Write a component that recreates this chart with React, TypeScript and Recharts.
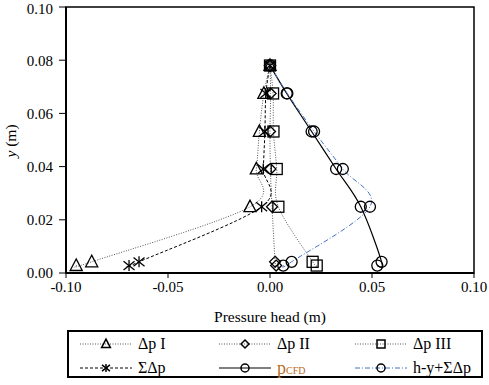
import React from "react";
import {
  LineChart,
  Line,
  XAxis,
  YAxis,
  ReferenceArea,
  Label,
} from "recharts";

// y levels (m), bottom to top, shared by every series
const yLevels = [0.0028, 0.0042, 0.0249, 0.0391, 0.0532, 0.0675, 0.078];

// pressure heads (m) at each y level
const dpI = [-0.095, -0.0874, -0.0098, -0.0067, -0.0052, -0.003, 0];
const dpII = [0.003, 0.0025, 0.001, 0.0002, 0.0, 0.0003, 0];
const dpIII = [0.0229, 0.0209, 0.0041, 0.0033, 0.0017, 0.0015, 0];
const sumDp = [-0.0691, -0.0642, -0.0041, -0.0033, -0.0025, -0.002, 0];
const pCfd = [0.0526, 0.0547, 0.0445, 0.0324, 0.0204, 0.0082, 0];
const hySumDp = [0.0065, 0.0106, 0.049, 0.0357, 0.0216, 0.0085, 0];

const xTicks = [-0.1, -0.05, 0, 0.05, 0.1];
const yTicks = [0, 0.02, 0.04, 0.06, 0.08, 0.1];

const FONT = "'Liberation Serif', 'Times New Roman', serif";

type Shape = "triangle" | "diamond" | "square" | "star" | "circle";

const toPoints = (xs: number[]) => xs.map((x, i) => ({ x, y: yLevels[i] }));

// excel-like smoothed line (catmull-rom through the points)
const smooth: any = (context: any) => {
  let pts: number[][] = [];
  return {
    areaStart() {},
    areaEnd() {},
    lineStart() {
      pts = [];
    },
    point(x: number, y: number) {
      pts.push([+x, +y]);
    },
    lineEnd() {
      const n = pts.length;
      if (!n) return;
      context.moveTo(pts[0][0], pts[0][1]);
      for (let i = 0; i < n - 1; i++) {
        const p0 = pts[i - 1] || pts[i];
        const p1 = pts[i];
        const p2 = pts[i + 1];
        const p3 = pts[i + 2] || p2;
        context.bezierCurveTo(
          p1[0] + (p2[0] - p0[0]) / 6,
          p1[1] + (p2[1] - p0[1]) / 6,
          p2[0] - (p3[0] - p1[0]) / 6,
          p2[1] - (p3[1] - p1[1]) / 6,
          p2[0],
          p2[1]
        );
      }
    },
  };
};

function Marker({ shape, cx, cy, s, sw = 1.3 }: { shape: Shape; cx: number; cy: number; s: number; sw?: number }) {
  const common = { fill: "none", stroke: "#000", strokeWidth: sw };
  if (shape === "triangle") {
    return (
      <polygon
        {...common}
        points={`${cx},${cy - s * 0.6} ${cx - s * 0.55},${cy + s * 0.45} ${cx + s * 0.55},${cy + s * 0.45}`}
      />
    );
  }
  if (shape === "diamond") {
    return (
      <polygon
        {...common}
        points={`${cx},${cy - s / 2} ${cx + s / 2},${cy} ${cx},${cy + s / 2} ${cx - s / 2},${cy}`}
      />
    );
  }
  if (shape === "square") {
    return <rect {...common} x={cx - s / 2} y={cy - s / 2} width={s} height={s} />;
  }
  if (shape === "star") {
    const h = s / 2;
    return (
      <g {...common}>
        <line x1={cx - h} y1={cy - h * 0.8} x2={cx + h} y2={cy + h * 0.8} />
        <line x1={cx - h} y1={cy + h * 0.8} x2={cx + h} y2={cy - h * 0.8} />
        <line x1={cx} y1={cy - h} x2={cx} y2={cy + h} />
      </g>
    );
  }
  return <circle {...common} cx={cx} cy={cy} r={s / 2} />;
}

const series = [
  { key: "dpI", name: "Δp I", xs: dpI, shape: "triangle" as Shape, stroke: "#555", dash: "1 1.5", width: 1 },
  { key: "dpII", name: "Δp II", xs: dpII, shape: "diamond" as Shape, stroke: "#555", dash: "1 1.5", width: 1 },
  { key: "dpIII", name: "Δp III", xs: dpIII, shape: "square" as Shape, stroke: "#555", dash: "1 1.5", width: 1 },
  { key: "sum", name: "ΣΔp", xs: sumDp, shape: "star" as Shape, stroke: "#000", dash: "3 2", width: 1 },
  { key: "cfd", name: "pCFD", xs: pCfd, shape: "circle" as Shape, stroke: "#000", dash: undefined, width: 1.2 },
  { key: "hy", name: "h-y+ΣΔp", xs: hySumDp, shape: "circle" as Shape, stroke: "#4472c4", dash: "5 2 1 2", width: 1 },
];

const legendCols = [78, 217, 353];
const legendRows = [343, 367];

function LegendBox() {
  return (
    <div
      style={{
        position: "absolute",
        left: 67,
        top: 330,
        width: 416,
        height: 48,
        boxSizing: "border-box",
        border: "2px solid #000",
      }}
    >
      {series.map((s, i) => {
        const left = legendCols[i % 3] - 67;
        const top = legendRows[Math.floor(i / 3)] - 330;
        return (
          <div
            key={s.key}
            style={{
              position: "absolute",
              left,
              top: top - 11,
              height: 20,
              display: "flex",
              alignItems: "center",
              fontFamily: FONT,
              fontSize: 16,
              whiteSpace: "nowrap",
            }}
          >
            <svg width={52} height={14} style={{ display: "block" }}>
              <line x1={0} y1={7} x2={52} y2={7} stroke={s.stroke} strokeWidth={s.width} strokeDasharray={s.dash} />
              <Marker shape={s.shape} cx={26} cy={7} s={8} sw={1.5} />
            </svg>
            <span style={{ marginLeft: 6 }}>
              {s.key === "cfd" ? (
                <span style={{ color: "#b86b1f", fontSize: 18 }}>
                  p<span style={{ fontSize: 10 }}>CFD</span>
                </span>
              ) : (
                s.name
              )}
            </span>
          </div>
        );
      })}
    </div>
  );
}

const tickStyle = { fill: "#000", fontSize: 15, fontFamily: FONT };

export default function App() {
  return (
    <div style={{ position: "absolute", left: 0, top: 0, width: 489, height: 385, background: "#fff" }}>
      <LineChart width={489} height={385} margin={{ top: 7, right: 15, left: 0, bottom: 52 }}>
        <XAxis
          dataKey="x"
          type="number"
          domain={[-0.1, 0.1]}
          ticks={xTicks}
          tickFormatter={(v: number) => v.toFixed(2)}
          tick={tickStyle}
          tickSize={5}
          tickMargin={3}
          height={60}
          axisLine={{ stroke: "#000", strokeWidth: 2 }}
          tickLine={{ stroke: "#000" }}
          allowDataOverflow
        >
          <Label
            value="Pressure head (m)"
            position="insideBottom"
            offset={11}
            style={{ fill: "#000", fontSize: 15.5, fontFamily: FONT }}
          />
        </XAxis>
        <YAxis
          type="number"
          domain={[0, 0.1]}
          ticks={yTicks}
          tickFormatter={(v: number) => v.toFixed(2)}
          tick={tickStyle}
          tickSize={7}
          tickMargin={6}
          width={66}
          axisLine={{ stroke: "#000", strokeWidth: 2 }}
          tickLine={{ stroke: "#000" }}
          allowDataOverflow
        >
          <Label
            content={() => (
              <text
                x={10}
                y={141}
                transform="rotate(-90 10 141)"
                textAnchor="middle"
                dominantBaseline="central"
                style={{ fill: "#000", fontSize: 15.5, fontFamily: FONT }}
              >
                <tspan fontStyle="italic">y</tspan> (m)
              </text>
            )}
          />
        </YAxis>
        <ReferenceArea x1={-0.1} x2={0.1} y1={0} y2={0.1} fill="none" stroke="#000" strokeWidth={1.5} />
        {series.map((s) => (
          <Line
            key={s.key}
            data={toPoints(s.xs)}
            dataKey="y"
            name={s.name}
            type={smooth}
            stroke={s.stroke}
            strokeWidth={s.width}
            strokeDasharray={s.dash}
            isAnimationActive={false}
            dot={(p: any) => <Marker key={`${s.key}-${p.index}`} shape={s.shape} cx={p.cx} cy={p.cy} s={11} />}
            activeDot={false}
          />
        ))}
      </LineChart>
      <LegendBox />
    </div>
  );
}
